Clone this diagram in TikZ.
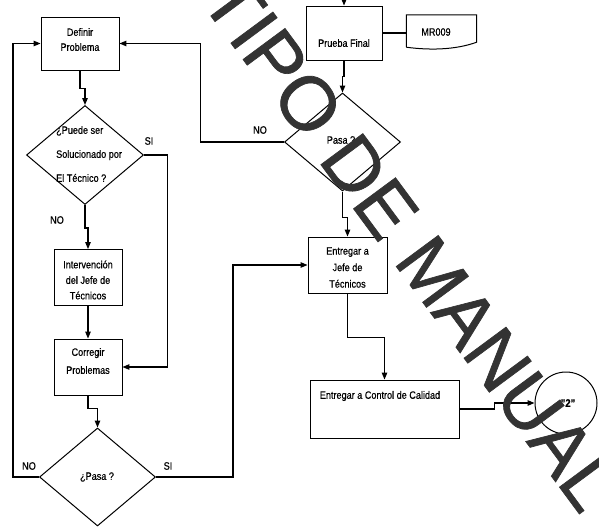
\documentclass[tikz,border=0pt]{standalone}
\usepackage{fontspec}
\setmainfont{Liberation Sans}[FakeStretch=0.85, FakeBold=0.6]
\newfontfamily\markfont{Liberation Sans}[FakeBold=0.9]
\usetikzlibrary{arrows.meta,shapes.geometric,calc}

\begin{document}
\begin{tikzpicture}[x=1pt,y=-1pt,
  every node/.style={font=\fontsize{10.7}{13}\selectfont, inner sep=0pt},
  box/.style={draw, line width=0.9pt},
  txt/.style={align=center},
  decision/.style={diamond, draw, line width=1pt},
  link/.style={line width=1.2pt},
  flow/.style={line width=1.2pt, -{Triangle[length=7pt,width=5.5pt]}}
]
\useasboundingbox (0,0) rectangle (599,527);
\clip (0,0) rectangle (599,527);

% process boxes
\node[box, minimum width=78pt, minimum height=53pt] (def) at (80,43.5) {};
\node[box, minimum width=68pt, minimum height=56pt] (int) at (88,277.5) {};
\node[box, minimum width=68pt, minimum height=56pt] (cor) at (88,367) {};
\node[box, minimum width=76pt, minimum height=54pt] (pf) at (344,33) {};
\node[box, minimum width=79pt, minimum height=56pt] (ej) at (347.5,265) {};
\node[box, minimum width=149pt, minimum height=58pt] (cc) at (384.5,409) {};

% decisions
\node[decision, minimum width=117pt, minimum height=99pt] (d1) at (85,155) {};
\node[decision, minimum width=116pt, minimum height=98pt] (d2) at (97.5,477) {};
\node[decision, minimum width=116pt, minimum height=98pt] (d3) at (342.5,142) {};

% connector circle
\node[circle, draw, line width=1pt, minimum size=62pt] (c2) at (566,403) {};

% record document
\node[minimum width=70pt, minimum height=32pt] (mr) at (441.5,31) {};
\draw[line width=1pt] (mr.south west) -- (mr.north west) -- (mr.north east)
  -- ($(mr.south east)+(0,-5)$)
  .. controls ($(mr.south east)+(-22,3)$) and ($(mr.south west)+(22,3)$) .. (mr.south west);

% texts
\node[txt, font=\fontsize{10.7}{15}\selectfont] (defT) at (80,39.5) {Definir\\Problema};
\node[align=left, anchor=west, font=\fontsize{10.7}{24}\selectfont] (d1T) at (56,154) {¿Puede ser\\Solucionado por\\El Técnico ?};
\node[txt, font=\fontsize{10.7}{15.5}\selectfont] (intT) at (88,280) {Intervención\\del Jefe de\\Técnicos};
\node[txt, font=\fontsize{10.7}{18}\selectfont] (corT) at (88,361) {Corregir\\Problemas};
\node (d2T) at (97,477) {¿Pasa ?};
\node (pfT) at (344,43) {Prueba Final};
\node (mrT) at (436,32) {MR009};
\node (d3T) at (341,140) {Pasa ?};
\node[txt, font=\fontsize{10.7}{16.5}\selectfont] (ejT) at (347.5,267.5) {Entregar a\\Jefe de\\Técnicos};
\node (ccT) at (380,396) {Entregar a Control de Calidad};
\node[font=\bfseries\fontsize{11}{13}\selectfont] (c2T) at (568,403) {"2"};

% branch labels
\node (noA) at (260,130) {NO};
\node (siA) at (149,141) {SI};
\node (noB) at (57,220) {NO};
\node (noC) at (29,466) {NO};
\node (siB) at (168,466) {SI};

% connectors
\coordinate (entry) at (344,-12);
\draw[flow] (entry) -- (pf.north);
\draw[link] (pf.east) -- (pf.east -| mr.west);
\draw[flow] (pf.south) -- ++(0,16) -| (d3.north);
\draw[flow] (d3.west) -- ++(-83.5,0) |- (def.east);
\draw[flow] (d3.south) -- ++(0,26) -| (ej.north);
\draw[flow] (ej.south) -- ++(0,44) -| (cc.north);
\draw[flow] (cc.east) -- ++(35,0) |- (c2.west);
\draw[flow] (def.south) -- ++(0,18) -| (d1.north);
\draw[flow] (d1.east) -- ++(23.5,0) |- (cor.east);
\draw[flow] (d1.south) -- ++(0,23) -| (int.north);
\draw[flow] (int.south) -- (cor.north);
\draw[flow] (cor.south) -- ++(0,13) -| (d2.north);
\draw[flow] (d2.west) -- ++(-26,0) |- (def.west);
\draw[flow] (d2.east) -- ++(77,0) |- (ej.west);

% diagonal stamp across the sheet
\node[anchor=base west, rotate=-53.5, text=black!80,
      font=\markfont\fontsize{76}{76}\selectfont] (wm) at (199,0) {TIPO DE MANUAL};
\end{tikzpicture}
\end{document}
